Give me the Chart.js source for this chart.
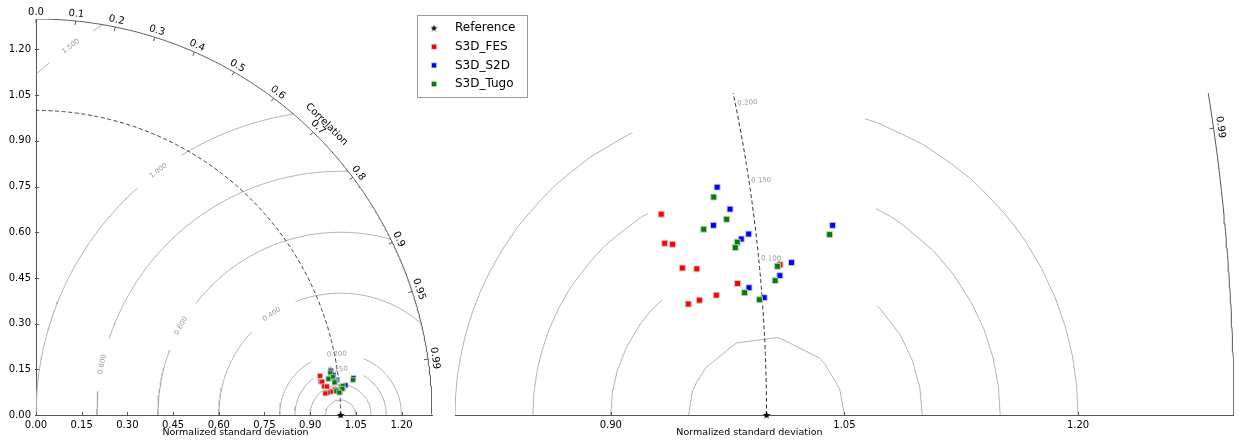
<!DOCTYPE html>
<html>
<head>
<meta charset="utf-8">
<script src="https://cdn.jsdelivr.net/npm/chart.js@4.4.0/dist/chart.umd.min.js"></script>
<style>
  html, body { margin: 0; padding: 0; background: #fff; }
  #wrap { position: relative; width: 1239px; height: 441px; overflow: hidden; background: #fff; }
  canvas { position: absolute; top: 0; }
  #taylorFull { left: 0; }
  #taylorZoom { left: 400px; }
</style>
</head>
<body>
<div id="wrap">
  <canvas id="taylorFull" width="445" height="441"></canvas>
  <canvas id="taylorZoom" width="839" height="441"></canvas>
</div>
<script>
// ---- data: normalised standard deviation and correlation of each run vs. the reference ----
const refStd = 1.0;
const fesStd   = [0.9412, 0.9411, 0.9460, 0.9506, 0.9598, 0.9850, 0.9708, 0.9597, 0.9524, 1.0132];
const fesCorr  = [0.99065, 0.99317, 0.99332, 0.99510, 0.99525, 0.99635, 0.99688, 0.99707, 0.99722, 0.99550];
const s2dStd   = [0.9792, 0.9854, 0.9735, 0.9953, 0.9902, 1.0495, 1.0207, 1.0125, 0.9921, 1.0013];
const s2dCorr  = [0.98887, 0.99104, 0.99221, 0.99322, 0.99352, 0.99330, 0.99543, 0.99612, 0.99663, 0.99719];
const tugoStd  = [0.9761, 0.9824, 0.9670, 0.9874, 0.9858, 1.0469, 1.0115, 1.0092, 0.9890, 0.9982];
const tugoCorr = [0.98976, 0.99185, 0.99243, 0.99372, 0.99409, 0.99391, 0.99557, 0.99637, 0.99687, 0.99727];

const seriesNames = ['S3D_FES', 'S3D_S2D', 'S3D_Tugo'];
const referenceName = 'Reference';

// centred RMS difference contour levels and correlation tick values
const rmsLevels = [0.05, 0.1, 0.15, 0.2, 0.4, 0.6, 0.8, 1.0, 1.5];
const corrTicks = [0, 0.1, 0.2, 0.3, 0.4, 0.5, 0.6, 0.7, 0.8, 0.9, 0.95, 0.99];
const fullTicks = [0, 0.15, 0.3, 0.45, 0.6, 0.75, 0.9, 1.05, 1.2];
const zoomTicks = [0.9, 1.05, 1.2];
const stdMax = 1.3;
const axisTitle = 'Normalized standard deviation';
const corrTitle = 'Correlation';

// ---- layout / style settings ----
const FONT = '"DejaVu Sans", "Liberation Sans", sans-serif';
Chart.defaults.font.family = FONT;
Chart.defaults.color = '#000';

const seriesColors = ['#ff0000', '#0000ff', '#008000'];
const AXIS_COLOR = '#555';
const CONTOUR_COLOR = '#ababab';

const fullArea = { left: 36, top: 19, right: 432, bottom: 415 };   // inside a 445 x 441 canvas
const zoomArea = { left: 55, top: 93, right: 837, bottom: 415 };   // inside a 839 x 441 canvas
const zoomXMin = 0.8, zoomXMax = 1.3;
const fullPx = (fullArea.right - fullArea.left) / stdMax;
const zoomPx = (zoomArea.right - zoomArea.left) / (zoomXMax - zoomXMin);
const zoomYMax = (zoomArea.bottom - zoomArea.top) / zoomPx;

// label placement on the contours (angle around the reference point, degrees)
const fullRmsLabels = [[1.5, 126.2], [1.0, 126.7], [0.8, 168], [0.6, 150.8], [0.4, 124.4], [0.2, 93.5], [0.15, 93.5]];
const zoomRmsLabels = [[0.2, 93.5], [0.15, 91.3], [0.1, 88.3]];
const fullGapPx = 54, zoomGapPx = 240;

// ---- geometry helpers ----
const toXY = (s, c) => ({ x: s * c, y: s * Math.sqrt(Math.max(0, 1 - c * c)) });
const seriesPoints = (std, corr) => std.map((s, i) => toXY(s, corr[i]));

function arcPoints(radius, n) {
  const out = [];
  for (let k = 0; k <= n; k++) {
    const t = (Math.PI / 2) * k / n;
    out.push({ x: radius * Math.cos(t), y: radius * Math.sin(t) });
  }
  return out;
}

// contour of the centred RMS difference on a polar (std, angle) grid
const GRID_NR = 50, GRID_NT = 100;
function rmsField(r, t) { return Math.sqrt(r * r + refStd * refStd - 2 * r * refStd * Math.cos(t)); }
const gridVals = (() => {
  const dr = stdMax / (GRID_NR - 1), dt = (Math.PI / 2) / (GRID_NT - 1), v = [];
  for (let i = 0; i < GRID_NR; i++) {
    const row = [];
    for (let j = 0; j < GRID_NT; j++) row.push(rmsField(i * dr, j * dt));
    v.push(row);
  }
  return v;
})();

function contourVertices(level) {
  const dr = stdMax / (GRID_NR - 1), dt = (Math.PI / 2) / (GRID_NT - 1);
  const pts = [];
  const add = (r, t) => pts.push({ x: r * Math.cos(t), y: r * Math.sin(t) });
  for (let i = 0; i < GRID_NR; i++) {
    for (let j = 0; j < GRID_NT; j++) {
      const a = gridVals[i][j];
      if (i + 1 < GRID_NR) {
        const b = gridVals[i + 1][j];
        if ((a < level) !== (b < level)) add((i + (level - a) / (b - a)) * dr, j * dt);
      }
      if (j + 1 < GRID_NT) {
        const b = gridVals[i][j + 1];
        if ((a < level) !== (b < level)) add(i * dr, (j + (level - a) / (b - a)) * dt);
      }
    }
  }
  pts.forEach(p => { p.phi = Math.atan2(p.y, p.x - refStd); });
  pts.sort((p, q) => p.phi - q.phi);
  return pts;
}

// contour polyline with the stretch under its inline label cut out
function contourData(level, labels, gapPx, pxPerUnit) {
  const gaps = labels.filter(l => Math.abs(l[0] - level) < 1e-9)
    .map(l => ({ phi: l[1] * Math.PI / 180, half: (gapPx / 2 / pxPerUnit) / level }));
  const gapOf = phi => gaps.find(g => Math.abs(phi - g.phi) < g.half);
  const lerp = (p, q, phi) => {
    const f = (phi - p.phi) / (q.phi - p.phi);
    return { x: p.x + f * (q.x - p.x), y: p.y + f * (q.y - p.y) };
  };
  const verts = contourVertices(level);
  const out = [];
  verts.forEach((p, k) => {
    const g = gapOf(p.phi);
    const prev = k > 0 ? verts[k - 1] : null;
    const gPrev = prev ? gapOf(prev.phi) : null;
    if (g) {
      if (prev && !gPrev && p.phi !== prev.phi) {
        out.push(lerp(prev, p, g.phi - g.half));
        out.push({ x: p.x, y: null });
      }
    } else {
      if (prev && gPrev && p.phi !== prev.phi) out.push(lerp(prev, p, gPrev.phi + gPrev.half));
      out.push({ x: p.x, y: p.y });
    }
  });
  return out;
}

function starImage(size) {
  const c = document.createElement('canvas');
  c.width = c.height = size;
  const g = c.getContext('2d');
  const cx = size / 2, cy = size / 2 + 0.3, R = size / 2, r = R * 0.42;
  g.beginPath();
  for (let k = 0; k < 10; k++) {
    const a = -Math.PI / 2 + k * Math.PI / 5, rr = k % 2 ? r : R;
    g.lineTo(cx + rr * Math.cos(a), cy + rr * Math.sin(a));
  }
  g.closePath();
  g.fillStyle = '#000';
  g.fill();
  return c;
}
const STAR = starImage(8);
const STAR_SMALL = starImage(7);

const corrLabel = c => (Math.round(c * 100) % 10 === 0 ? c.toFixed(1) : c.toFixed(2));

// ---- datasets ----
function buildDatasets(labels, gapPx, pxPerUnit, pointR, pointBorder) {
  const ds = [];
  ds.push({
    label: referenceName, inLegend: true, legendMarker: 'star',
    data: [{ x: refStd, y: 0 }], pointStyle: STAR, pointRadius: 4, clip: false, order: 0
  });
  const stds = [fesStd, s2dStd, tugoStd], cors = [fesCorr, s2dCorr, tugoCorr];
  seriesNames.forEach((name, k) => {
    ds.push({
      label: name, inLegend: true, legendMarker: 'rect',
      data: seriesPoints(stds[k], cors[k]),
      pointStyle: 'rect', pointRadius: pointR,
      pointBackgroundColor: seriesColors[k], backgroundColor: seriesColors[k],
      pointBorderColor: 'rgba(205,205,205,0.95)', borderColor: seriesColors[k],
      pointBorderWidth: pointBorder, order: 3 - k
    });
  });
  rmsLevels.forEach(lev => {
    ds.push({
      label: 'rms ' + lev, data: contourData(lev, labels, gapPx, pxPerUnit),
      showLine: true, pointRadius: 0, borderColor: CONTOUR_COLOR, borderWidth: 0.9,
      spanGaps: false, order: 20
    });
  });
  ds.push({
    label: 'reference std', data: arcPoints(refStd, 400), showLine: true, pointRadius: 0,
    borderColor: '#333', borderWidth: 1, borderDash: [4, 2.6], order: 15
  });
  ds.push({
    label: 'outer', data: arcPoints(stdMax, 400), showLine: true, pointRadius: 0,
    borderColor: AXIS_COLOR, borderWidth: 1, order: 14
  });
  return ds;
}

// ---- decorations: correlation axis, contour labels, titles, legend ----
const taylorDecor = {
  id: 'taylorDecor',
  afterDatasetsDraw(chart, _args, o) {
    const { ctx, chartArea: ca } = chart;
    const sx = chart.scales.x, sy = chart.scales.y;
    const P = (dx, dy) => [sx.getPixelForValue(dx), sy.getPixelForValue(dy)];
    const inside = (qx, qy) => qx >= ca.left - 1 && qx <= ca.right + 1 && qy >= ca.top - 1 && qy <= ca.bottom + 1;
    ctx.save();
    ctx.strokeStyle = AXIS_COLOR;
    ctx.lineWidth = 1;

    // small tick marks on the straight axes
    ctx.beginPath();
    sx.ticks.forEach(t => {
      const q = Math.round(sx.getPixelForValue(t.value)) + 0.5;
      ctx.moveTo(q, ca.bottom + 1); ctx.lineTo(q, ca.bottom - 3);
    });
    if (o.yTicks) {
      sy.ticks.forEach(t => {
        const q = Math.round(sy.getPixelForValue(t.value)) + 0.5;
        ctx.moveTo(ca.left - 1, q); ctx.lineTo(ca.left + 3, q);
      });
    }
    ctx.stroke();

    // correlation ticks and labels on the outer arc
    ctx.font = '10px ' + FONT;
    ctx.fillStyle = '#000';
    ctx.textAlign = 'center';
    ctx.textBaseline = 'middle';
    corrTicks.forEach(c => {
      const th = Math.acos(c), ux = Math.cos(th), uy = Math.sin(th);
      const [ax, ay] = P(stdMax * ux, stdMax * uy);
      if (!inside(ax, ay)) return;
      ctx.beginPath();
      ctx.moveTo(ax, ay);
      ctx.lineTo(ax - 4 * ux, ay + 4 * uy);
      ctx.stroke();
      ctx.save();
      ctx.translate(ax + 7 * ux, ay - 7 * uy);
      ctx.rotate(Math.PI / 2 - th);
      ctx.fillText(corrLabel(c), 0, 0);
      ctx.restore();
    });
    if (o.corrTitle) {
      const th = Math.PI / 4;
      const [ax, ay] = P(stdMax * Math.cos(th), stdMax * Math.sin(th));
      ctx.save();
      ctx.translate(ax + 15 * Math.cos(th), ay - 15 * Math.sin(th));
      ctx.rotate(Math.PI / 2 - th);
      ctx.fillText(corrTitle, 0, 0);
      ctx.restore();
    }

    // RMS contour labels
    ctx.font = '7px ' + FONT;
    ctx.fillStyle = '#999';
    o.rmsLabels.forEach(([lev, phiDeg]) => {
      const f = phiDeg * Math.PI / 180;
      const [lx, ly] = P(refStd + lev * Math.cos(f), lev * Math.sin(f));
      let rot = Math.atan2(-Math.cos(f), -Math.sin(f));
      if (rot > Math.PI / 2) rot -= Math.PI;
      if (rot < -Math.PI / 2) rot += Math.PI;
      ctx.save();
      ctx.translate(lx, ly);
      ctx.rotate(rot);
      ctx.fillText(lev.toFixed(3), 0, 0);
      ctx.restore();
    });

    // axis title
    ctx.font = '9.5px ' + FONT;
    ctx.fillStyle = '#000';
    ctx.fillText(axisTitle, sx.getPixelForValue(o.titleAt), ca.bottom + 18);

    // legend
    if (o.legend) {
      const L = o.legend;
      ctx.fillStyle = '#fff';
      ctx.fillRect(L.x, L.y, L.w, L.h);
      ctx.strokeStyle = '#999';
      ctx.strokeRect(L.x + 0.5, L.y + 0.5, L.w, L.h);
      ctx.font = '12px ' + FONT;
      ctx.textAlign = 'left';
      let row = 0;
      chart.data.datasets.filter(d => d.inLegend).forEach(d => {
        const cy = L.y + 13 + row * 18.7;
        const mx = L.x + 17;
        if (d.legendMarker === 'star') {
          ctx.drawImage(STAR_SMALL, mx - 3.5, cy - 3.5);
        } else {
          ctx.fillStyle = d.pointBackgroundColor;
          ctx.fillRect(mx - 2.5, cy - 2.5, 5, 5);
          ctx.strokeStyle = 'rgba(205,205,205,0.9)';
          ctx.lineWidth = 0.7;
          ctx.strokeRect(mx - 2.5, cy - 2.5, 5, 5);
        }
        ctx.fillStyle = '#000';
        ctx.fillText(d.label, L.x + 38, cy);
        row++;
      });
    }
    ctx.restore();
  }
};

function axisOptions(min, max, ticks, visible, fitProp, fitSize) {
  return {
    type: 'linear', min, max, display: visible,
    afterBuildTicks: s => { s.ticks = ticks.map(v => ({ value: v })); },
    afterFit: s => { s[fitProp] = fitSize; },
    grid: { display: false, drawTicks: false },
    border: { display: true, color: AXIS_COLOR, width: 1 },
    ticks: {
      font: { size: 10, family: FONT }, color: '#000', padding: fitProp === 'width' ? 5 : 4,
      autoSkip: false, maxRotation: 0, callback: v => Number(v).toFixed(2)
    }
  };
}

// full quarter-circle diagram
new Chart(document.getElementById('taylorFull'), {
  type: 'scatter',
  data: { datasets: buildDatasets(fullRmsLabels, fullGapPx, fullPx, 3.5, 0.8) },
  options: {
    responsive: false, animation: false, devicePixelRatio: 1, events: [],
    layout: { padding: { left: 0, top: fullArea.top, right: 445 - fullArea.right, bottom: 0 } },
    plugins: {
      legend: { display: false }, tooltip: { enabled: false },
      taylorDecor: { yTicks: true, corrTitle: true, rmsLabels: fullRmsLabels, titleAt: stdMax / 2 + 0.005 }
    },
    scales: {
      x: axisOptions(0, stdMax, fullTicks, true, 'height', 441 - fullArea.bottom),
      y: axisOptions(0, stdMax, fullTicks, true, 'width', fullArea.left)
    }
  },
  plugins: [taylorDecor]
});

// zoom on the region around the reference point
new Chart(document.getElementById('taylorZoom'), {
  type: 'scatter',
  data: { datasets: buildDatasets(zoomRmsLabels, zoomGapPx, zoomPx, 4.2, 1) },
  options: {
    responsive: false, animation: false, devicePixelRatio: 1, events: [],
    layout: { padding: { left: zoomArea.left, top: zoomArea.top, right: 839 - zoomArea.right, bottom: 0 } },
    plugins: {
      legend: { display: false }, tooltip: { enabled: false },
      taylorDecor: {
        yTicks: false, corrTitle: false, rmsLabels: zoomRmsLabels, titleAt: 0.989,
        legend: { x: 17, y: 15, w: 110, h: 82 }
      }
    },
    scales: {
      x: axisOptions(zoomXMin, zoomXMax, zoomTicks, true, 'height', 441 - zoomArea.bottom),
      y: Object.assign(axisOptions(0, zoomYMax, [], false, 'width', 0), { display: false })
    }
  },
  plugins: [taylorDecor]
});
</script>
</body>
</html>
